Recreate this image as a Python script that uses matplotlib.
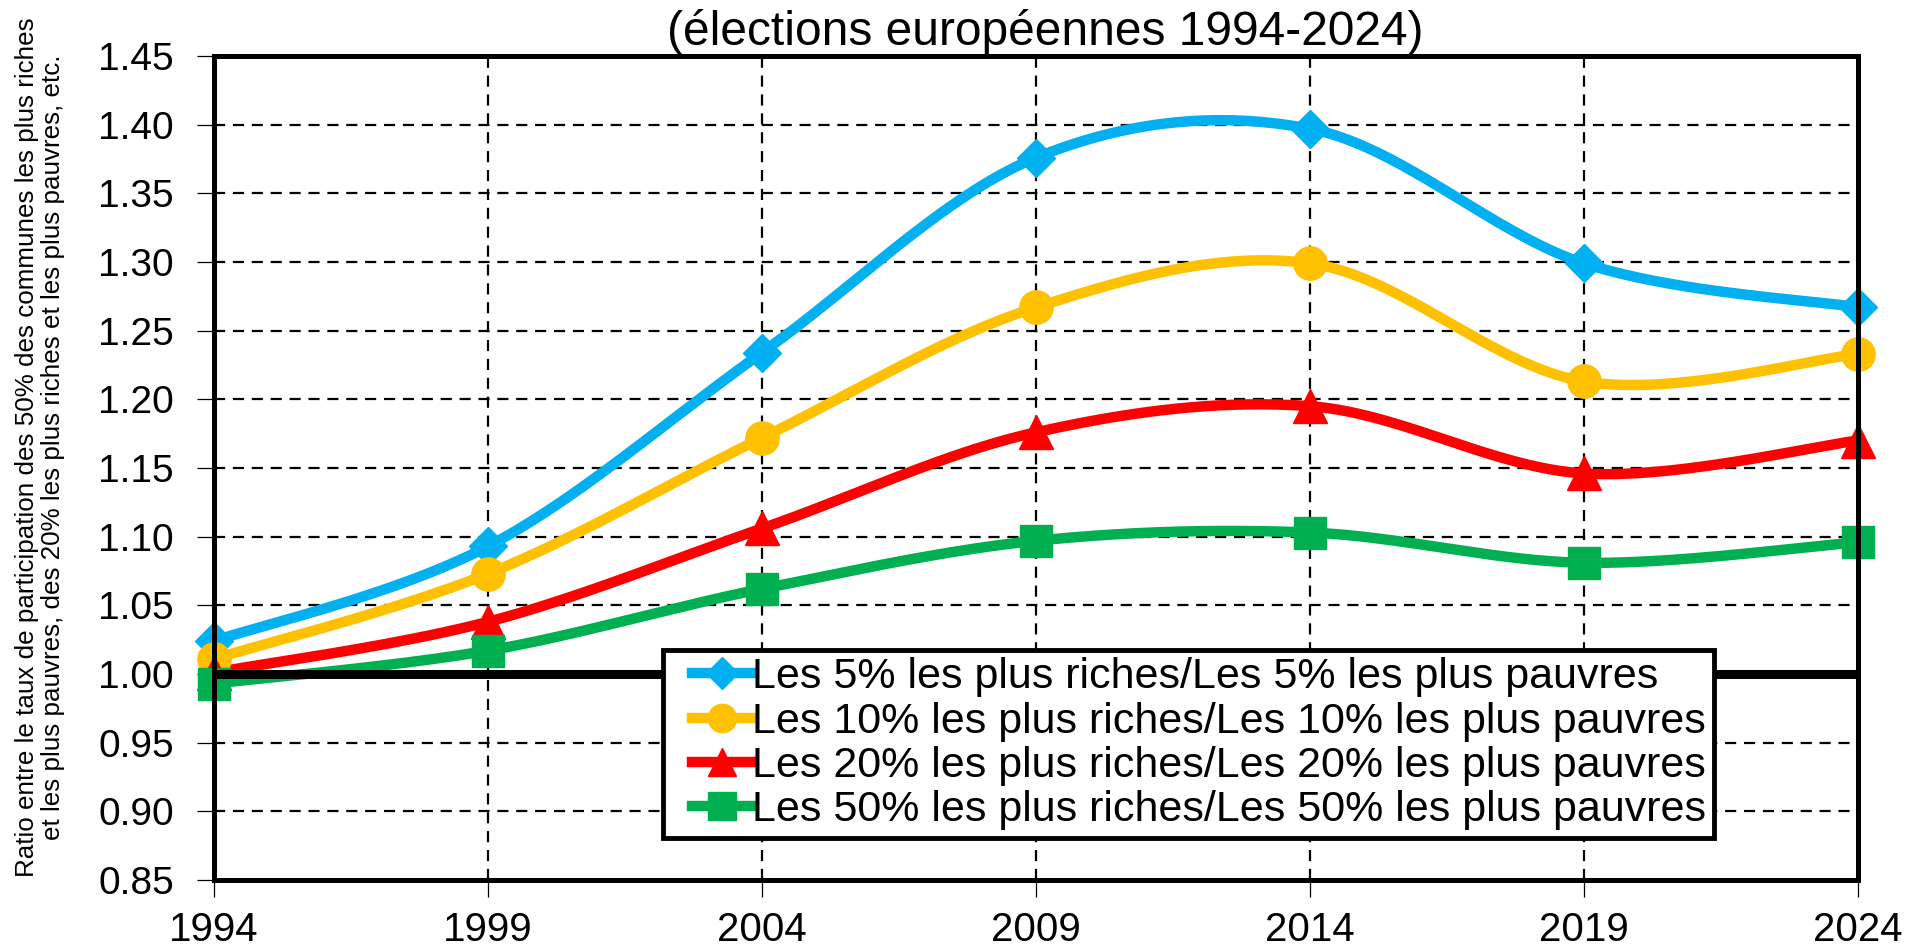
import numpy as np
import matplotlib
matplotlib.use("Agg")
import matplotlib.pyplot as plt
from matplotlib.legend_handler import HandlerLine2D

plt.rcParams['font.family'] = ['Liberation Sans', 'DejaVu Sans']

years = [1994, 1999, 2004, 2009, 2014, 2019, 2024]
top5 = [1.024, 1.093, 1.234, 1.376, 1.397, 1.299, 1.267]
top10 = [1.011, 1.073, 1.172, 1.267, 1.299, 1.213, 1.233]
top20 = [1.001, 1.038, 1.106, 1.176, 1.195, 1.146, 1.170]
top50 = [0.993, 1.017, 1.062, 1.097, 1.103, 1.081, 1.096]

labels = ["Les 5% les plus riches/Les 5% les plus pauvres",
          "Les 10% les plus riches/Les 10% les plus pauvres",
          "Les 20% les plus riches/Les 20% les plus pauvres",
          "Les 50% les plus riches/Les 50% les plus pauvres"]
colors = ['#00B0F0', '#FFC000', '#FF0000', '#00B050']
markers = ['D', 'o', '^', 's']
msizes = [19, 24, 24, 23]


def smooth(x, y, n=40):
    # excel-like smoothed line (bezier through the points)
    x = np.asarray(x, float)
    y = np.asarray(y, float)
    px = np.concatenate([[x[0]], x, [x[-1]]])
    py = np.concatenate([[y[0]], y, [y[-1]]])
    t = np.linspace(0, 1, n)
    bez = lambda a, b, c, d: ((1 - t) ** 3 * a + 3 * (1 - t) ** 2 * t * b
                              + 3 * (1 - t) * t ** 2 * c + t ** 3 * d)
    xs, ys = [], []
    for i in range(1, len(px) - 2):
        xs.append(bez(px[i], px[i] + (px[i + 1] - px[i - 1]) / 6,
                      px[i + 1] - (px[i + 2] - px[i]) / 6, px[i + 1]))
        ys.append(bez(py[i], py[i] + (py[i + 1] - py[i - 1]) / 6,
                      py[i + 1] - (py[i + 2] - py[i]) / 6, py[i + 1]))
    return np.concatenate(xs), np.concatenate(ys)


class PadHandler(HandlerLine2D):
    # leaves some blank space left of the legend line, as excel does
    def create_artists(self, legend, orig_handle, xdescent, ydescent,
                       width, height, fontsize, trans):
        pad = 0.26 * width
        return super().create_artists(legend, orig_handle, xdescent - pad, ydescent,
                                      width - pad, height, fontsize, trans)


fig = plt.figure(figsize=(19.08, 9.46), dpi=100)
ax = fig.add_axes([0.1122, 0.0698, 0.8616, 0.871])

for vals, lab, col, mk, ms in zip([top5, top10, top20, top50], labels, colors, markers, msizes):
    sx, sy = smooth(years, vals)
    ax.plot(sx, sy, color=col, lw=7.5, zorder=3, solid_capstyle='round')
    ax.plot(years, vals, ls='none', marker=mk, ms=ms, color=col, zorder=4, clip_on=False)
    ax.plot([], [], color=col, lw=7.5, marker=mk, ms=ms * 0.85, label=lab)

ax.axhline(1.0, color='black', lw=6.5, zorder=5)

ax.set_xlim(1994, 2024)
ax.set_ylim(0.85, 1.45)
ax.set_xticks(years)
yt = np.arange(0.85, 1.4501, 0.05)
ax.set_yticks(yt)
ax.set_yticklabels(["%.2f" % v for v in yt])
ax.tick_params(axis='both', length=12, width=0.9, direction='out', colors='black')
ax.tick_params(axis='y', labelsize=28, pad=17)
ax.tick_params(axis='x', labelsize=29, pad=10)

ax.grid(True, color='black', lw=1.6, ls=(0, (5, 3.5)), zorder=1)
ax.set_axisbelow(True)
for s in ax.spines.values():
    s.set_linewidth(3.6)
    s.set_zorder(6)

leg = ax.legend(loc='lower left', bbox_to_anchor=(0.273, 0.051), fontsize=31,
                frameon=True, fancybox=False, edgecolor='black', framealpha=1,
                handlelength=1.9, handletextpad=0.0, labelspacing=0.1,
                borderpad=0.18, borderaxespad=0,
                handler_map={plt.Line2D: PadHandler()})
leg.get_frame().set_linewidth(3.5)
leg.set_zorder(10)

fig.text(1045 / 1908, 1 - 32 / 946, "(élections européennes 1994-2024)",
         fontsize=34.5, ha='center', va='center')
fig.text(40 / 1908, 1 - 447 / 946,
         "Ratio entre le taux de participation des 50% des communes les plus riches\n"
         "et les plus pauvres, des 20% les plus riches et les plus pauvres, etc.",
         fontsize=18.7, rotation=90, ha='center', va='center', multialignment='center',
         linespacing=1.12)

fig.savefig("out.png", dpi=100)
